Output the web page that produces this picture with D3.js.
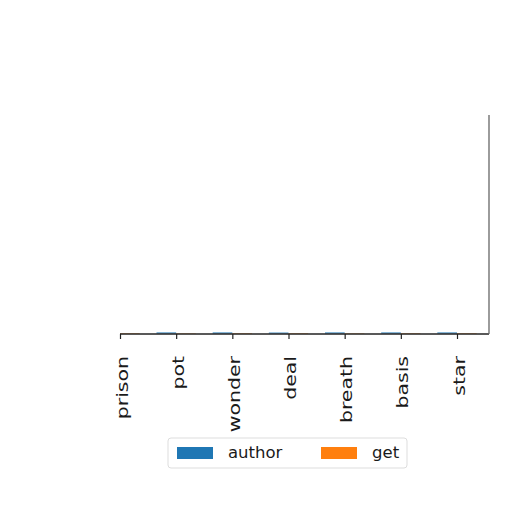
<!DOCTYPE html>
<html>
<head>
<meta charset="utf-8">
<script src="https://cdn.jsdelivr.net/npm/d3@7"></script>
<style>
  html, body { margin: 0; padding: 0; background: #fff; }
  text { font-family: "DejaVu Sans", sans-serif; fill: #1a1a1a; }
</style>
</head>
<body>
<div id="chart"></div>
<script>
// chart data
const categories = ['prison', 'pot', 'wonder', 'deal', 'breath', 'basis', 'star'];
const seriesNames = ['author', 'get'];
const authorValues = [0.9, 0.9, 0.9, 0.8, 0.9, 0.9, 0.9];
const getValues = [0.4, 0.3, 0.4, 0.4, 0.3, 0.4, 0.4];
const colors = ['#1f77b4', '#ff7f0e'];

const width = 512, height = 512;
const plotLeft = 120, plotRight = 489, plotTop = 115, plotBottom = 334;

const svg = d3.select('#chart').append('svg')
    .attr('width', width)
    .attr('height', height);

// keep bars inside the axes area
svg.append('clipPath')
    .attr('id', 'plot-clip')
    .append('rect')
    .attr('x', plotLeft).attr('y', plotTop)
    .attr('width', plotRight - plotLeft)
    .attr('height', plotBottom - plotTop);

const x = d3.scalePoint()
    .domain(categories)
    .range([plotLeft, 457]);

const barWidth = 0.35 * x.step();

const y = d3.scaleLinear()
    .domain([0, 100])
    .range([plotBottom, plotTop]);

// bars, grouped around each tick
const series = [authorValues, getValues];
const barLayer = svg.append('g').attr('clip-path', 'url(#plot-clip)');
series.forEach((vals, s) => {
    barLayer.selectAll('.bar-' + s)
        .data(categories)
        .enter().append('rect')
        .attr('class', 'bar-' + s)
        .attr('x', d => x(d) + (s === 0 ? -barWidth : 0))
        .attr('y', (d, i) => y(vals[i]))
        .attr('width', barWidth)
        .attr('height', (d, i) => y(0) - y(vals[i]))
        .style('fill', colors[s])
        .style('opacity', 0.55);
});

// x axis with rotated labels
const xAxis = svg.append('g')
    .attr('transform', `translate(0,${plotBottom})`)
    .call(d3.axisBottom(x).tickSize(5));
xAxis.select('.domain').remove();
xAxis.selectAll('line').attr('stroke', '#222').attr('stroke-width', 1.2);
xAxis.selectAll('.tick text')
    .attr('font-size', 16)
    .attr('text-anchor', 'end')
    .attr('x', 0)
    .attr('y', 0)
    .attr('dy', '0.38em')
    .attr('transform', 'translate(1,22) rotate(-90) scale(1.28,1)');

// spines: bottom and right only
svg.append('line')
    .attr('x1', plotLeft).attr('x2', plotRight)
    .attr('y1', plotBottom).attr('y2', plotBottom)
    .attr('stroke', '#222').attr('stroke-width', 1.3);
svg.append('line')
    .attr('x1', plotRight).attr('x2', plotRight)
    .attr('y1', plotTop).attr('y2', plotBottom)
    .attr('stroke', '#666').attr('stroke-width', 1.3);

// legend
const legend = svg.append('g').attr('transform', 'translate(168,438)');
legend.append('rect')
    .attr('width', 239).attr('height', 30)
    .attr('rx', 3)
    .style('fill', '#fff')
    .style('stroke', '#ddd');
const legendX = [9, 153];
seriesNames.forEach((name, i) => {
    legend.append('rect')
        .attr('x', legendX[i]).attr('y', 9)
        .attr('width', 36).attr('height', 12)
        .style('fill', colors[i]);
    legend.append('text')
        .attr('x', legendX[i] + 51).attr('y', 20)
        .attr('font-size', 16.5)
        .text(name);
});
</script>
</body>
</html>
